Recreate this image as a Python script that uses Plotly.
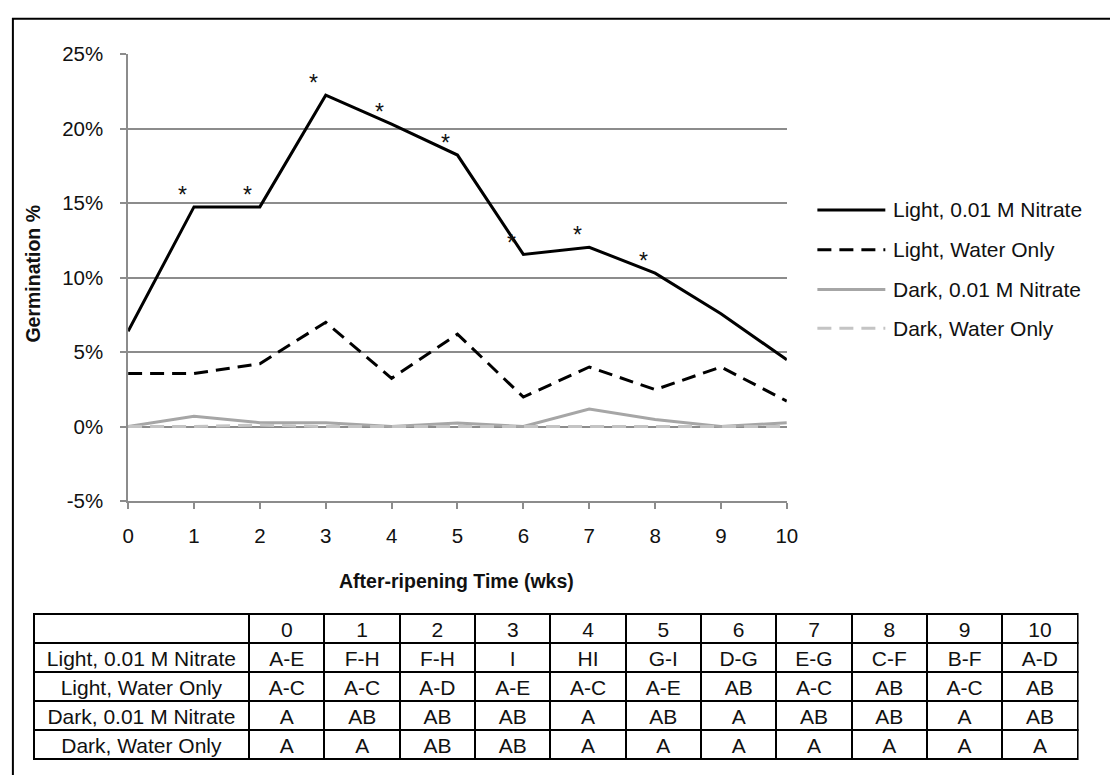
import plotly.graph_objects as go

# ---------------- data ----------------
weeks = [0, 1, 2, 3, 4, 5, 6, 7, 8, 9, 10]
series_names = ["Light, 0.01 M Nitrate", "Light, Water Only",
                "Dark, 0.01 M Nitrate", "Dark, Water Only"]
light_nitrate = [6.4, 14.75, 14.75, 22.25, 20.3, 18.23, 11.56, 12.04, 10.3, 7.58, 4.48]
light_water = [3.56, 3.56, 4.22, 7.0, 3.24, 6.21, 1.98, 4.0, 2.48, 4.0, 1.71]
dark_nitrate = [0.0, 0.7, 0.26, 0.26, 0.0, 0.24, 0.0, 1.17, 0.48, 0.0, 0.26]
dark_water = [0.0, 0.0, 0.1, 0.0, 0.0, 0.0, 0.0, 0.0, 0.0, 0.0, 0.0]
significant = [False, True, True, True, True, True, True, True, True, False, False]

y_tick_values = [-5, 0, 5, 10, 15, 20, 25]
y_tick_labels = ["-5%", "0%", "5%", "10%", "15%", "20%", "25%"]

table_header = ["", "0", "1", "2", "3", "4", "5", "6", "7", "8", "9", "10"]
letters_light_nitrate = ["A-E", "F-H", "F-H", "I", "HI", "G-I", "D-G", "E-G", "C-F", "B-F", "A-D"]
letters_light_water = ["A-C", "A-C", "A-D", "A-E", "A-C", "A-E", "AB", "A-C", "AB", "A-C", "AB"]
letters_dark_nitrate = ["A", "AB", "AB", "AB", "A", "AB", "A", "AB", "AB", "A", "AB"]
letters_dark_water = ["A", "A", "AB", "AB", "A", "A", "A", "A", "A", "A", "A"]

y_title = "Germination %"
x_title = "After-ripening Time (wks)"

# ---------------- styles ----------------
W, H = 1110, 775
FONT = "Liberation Sans, Arial, sans-serif"
FS = 20.5
TXT = "#111111"
GRID = "#8c8c8c"
styles = [
    dict(color="black", width=3, dash="solid"),
    dict(color="black", width=3, dash="14px,8px"),
    dict(color="#a6a6a6", width=3, dash="solid"),
    dict(color="#c4c4c4", width=3, dash="14px,8px"),
]
all_series = [light_nitrate, light_water, dark_nitrate, dark_water]


def px(x):
    return x / W


def py(y):
    return 1 - y / H


fig = go.Figure()
for name, vals, st in zip(series_names, all_series, styles):
    fig.add_trace(go.Scatter(x=weeks, y=vals, name=name, mode="lines",
                             line=st, showlegend=False, hoverinfo="x+y+name"))

# significance asterisks above Light, 0.01 M Nitrate
annotations = []
for wk, v, s in zip(weeks, light_nitrate, significant):
    if s:
        annotations.append(dict(x=wk - 0.18, y=v + 1.2, xref="x", yref="y", text="*",
                                showarrow=False, yshift=-6, xanchor="center", yanchor="middle",
                                font=dict(family=FONT, size=23, color=TXT)))

# axis titles
annotations.append(dict(x=px(458), y=py(586), xref="paper", yref="paper",
                        text="<b>%s</b>" % x_title, xanchor="center", yanchor="middle",
                        showarrow=False, font=dict(family=FONT, size=19.5, color=TXT)))
annotations.append(dict(x=px(27), y=py(270), xref="paper", yref="paper",
                        text="<b>%s</b>" % y_title, xanchor="center", yanchor="middle",
                        showarrow=False, textangle=-90, font=dict(family=FONT, size=19.5, color=TXT)))

# manual legend
shapes = []
legend_rows = [204, 245, 286, 326]
for name, st, ly in zip(series_names, styles, legend_rows):
    shapes.append(dict(type="line", xref="paper", yref="paper", x0=px(824), x1=px(893),
                       y0=py(ly), y1=py(ly), line=st))
    annotations.append(dict(x=px(899), y=py(ly), xref="paper", yref="paper", text=name,
                            xanchor="left", yanchor="middle", showarrow=False,
                            font=dict(family=FONT, size=21, color=TXT)))

# outer frame
shapes.append(dict(type="rect", xref="paper", yref="paper", x0=px(7), x1=1.02, y0=-0.02, y1=py(7),
                   line=dict(color="black", width=2), fillcolor="rgba(0,0,0,0)", layer="below"))

# table of letters (columns built from the rows above)
rows = [letters_light_nitrate, letters_light_water, letters_dark_nitrate, letters_dark_water]
cols = [series_names] + [[r[i] for r in rows] for i in range(len(weeks))]
fig.add_trace(go.Table(
    domain=dict(x=[px(28), px(1089)], y=[py(773), py(620)]),
    columnwidth=[219] + [76.5] * 11,
    header=dict(values=table_header, height=29, align="center",
                line=dict(color="black", width=2), fill=dict(color="white"),
                font=dict(family=FONT, size=21, color=TXT)),
    cells=dict(values=cols, height=29, align="center",
               line=dict(color="black", width=2), fill=dict(color="white"),
               font=dict(family=FONT, size=21, color=TXT)),
))

fig.update_layout(
    width=W, height=H, autosize=False,
    margin=dict(l=0, r=0, t=0, b=0),
    paper_bgcolor="white", plot_bgcolor="white",
    font=dict(family=FONT, size=FS, color=TXT),
    showlegend=False,
    annotations=annotations, shapes=shapes,
    xaxis=dict(domain=[px(124), px(793)], range=[0, 10], tickvals=weeks,
               ticktext=[str(w) for w in weeks],
               showgrid=False, zeroline=False, showline=True, linecolor=GRID, linewidth=1.5,
               ticks="outside", ticklen=6, tickcolor=GRID, tickwidth=1.5,
               ticklabelstandoff=10, tickfont=dict(family=FONT, size=FS, color=TXT)),
    yaxis=dict(domain=[py(504), py(43.5)], range=[-5, 25],
               tickvals=y_tick_values, ticktext=y_tick_labels,
               showgrid=True, gridcolor=GRID, gridwidth=1.5, zeroline=False,
               showline=True, linecolor=GRID, linewidth=1.5,
               ticks="outside", ticklen=6, tickcolor=GRID, tickwidth=1.5,
               ticklabelstandoff=13, tickfont=dict(family=FONT, size=FS, color=TXT)),
)

fig.write_html("out.html", config={"displayModeBar": False},
               post_script="document.body.style.margin='0';document.body.style.overflow='hidden';")
